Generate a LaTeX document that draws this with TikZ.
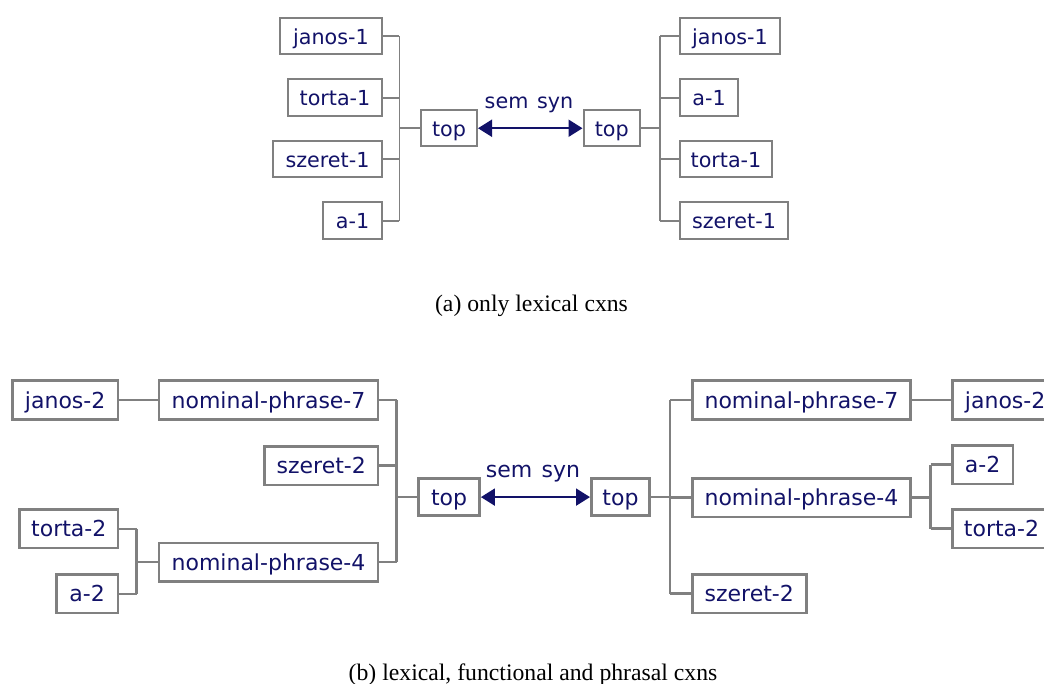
\documentclass[tikz,border=0pt]{standalone}
\usepackage{fontspec}
\setmainfont{Liberation Serif}
\newfontfamily\dvsans{DejaVu Sans}
\usetikzlibrary{arrows.meta}
\definecolor{navy}{RGB}{18,18,104}
\definecolor{boxgray}{RGB}{128,128,128}
\tikzset{
  boxa/.style={draw=boxgray, line width=2pt, inner sep=0pt, text=navy,
    font=\dvsans\fontsize{20.7}{24}\selectfont, text height=17pt, text depth=1pt,
    anchor=north west, minimum height=36.5pt},
  boxb/.style={draw=boxgray, line width=2.6pt, inner sep=0pt, text=navy,
    font=\dvsans\fontsize{22}{26}\selectfont, text height=18pt, text depth=2pt,
    anchor=north west, minimum height=38.5pt},
  conna/.style={draw=boxgray, line width=1.6pt},
  connb/.style={draw=boxgray, line width=2.5pt},
  biarrow/.style={draw=navy, line width=2pt, {Triangle[length=14pt,width=17pt]}-{Triangle[length=14pt,width=17pt]}},
  lbla/.style={text=navy, font=\dvsans\fontsize{20.7}{24}\selectfont, inner sep=0pt},
  lblb/.style={text=navy, font=\dvsans\fontsize{22}{26}\selectfont, inner sep=0pt},
  capt/.style={font=\fontsize{23.7}{28}\selectfont, inner sep=0pt, anchor=base}
}
\begin{document}
\begin{tikzpicture}[x=1pt,y=-1pt]
\path[use as bounding box] (0,0) rectangle (1044,684);

% ---------------- panel (a) ----------------
\node[boxa, minimum width=102pt] (aLj) at (279,17) {janos-1};
\node[boxa, minimum width=94pt]  (aLt) at (287,78.5) {torta-1};
\node[boxa, minimum width=109pt] (aLs) at (272,140) {szeret-1};
\node[boxa, minimum width=59pt]  (aLa) at (322,201.5) {a-1};
\node[boxa, minimum width=56pt]  (aTL) at (420,109) {top};
\node[boxa, minimum width=56.5pt](aTR) at (582.5,109) {top};
\node[boxa, minimum width=100pt] (aRj) at (679,17) {janos-1};
\node[boxa, minimum width=58pt]  (aRa) at (679,78.5) {a-1};
\node[boxa, minimum width=92pt]  (aRt) at (679,140) {torta-1};
\node[boxa, minimum width=108pt] (aRs) at (679,201.5) {szeret-1};
\coordinate (aBL) at (399.3,0);
\coordinate (aBR) at (660,0);

\draw[conna] (aLj.east) -- (aLj.east -| aBL);
\draw[conna] (aLt.east) -- (aLt.east -| aBL);
\draw[conna] (aLs.east) -- (aLs.east -| aBL);
\draw[conna] (aLa.east) -- (aLa.east -| aBL);
\draw[conna] (aLj.east -| aBL) -- (aLa.east -| aBL);
\draw[conna] (aTL.west) -- (aTL.west -| aBL);

\draw[conna] (aTR.east) -- (aTR.east -| aBR);
\draw[conna] (aRj.west -| aBR) -- (aRs.west -| aBR);
\draw[conna] (aRj.west -| aBR) -- (aRj.west);
\draw[conna] (aRa.west -| aBR) -- (aRa.west);
\draw[conna] (aRt.west -| aBR) -- (aRt.west);
\draw[conna] (aRs.west -| aBR) -- (aRs.west);

\draw[biarrow] (aTL.east) -- (aTR.west);
\node[lbla, anchor=base] (aSem) at (529,109) {sem\hspace{0.42em}syn};

\node[capt] (capA) at (531.5,311.7) {(a) only lexical cxns};

% ---------------- panel (b) ----------------
\node[boxb, minimum width=105.7pt] (bLj)  at (11,379.5) {janos-2};
\node[boxb, minimum width=219pt]   (bLn7) at (157.7,379.5) {nominal-phrase-7};
\node[boxb, minimum width=113.4pt] (bLs)  at (263.3,445) {szeret-2};
\node[boxb, minimum width=98.4pt]  (bLt)  at (18.3,508.3) {torta-2};
\node[boxb, minimum width=61.7pt]  (bLa)  at (55,573.3) {a-2};
\node[boxb, minimum width=219pt]   (bLn4) at (157.7,541.5) {nominal-phrase-4};
\node[boxb, minimum width=61pt, minimum height=37pt] (bTL) at (417.3,477.3) {top};
\node[boxb, minimum width=58.3pt, minimum height=37pt] (bTR) at (590,477.3) {top};
\node[boxb, minimum width=218.3pt] (bRn7) at (691,379.5) {nominal-phrase-7};
\node[boxb, minimum width=218.3pt] (bRn4) at (691,477) {nominal-phrase-4};
\node[boxb, minimum width=114pt]   (bRs)  at (691,573) {szeret-2};
\node[boxb, minimum width=105.7pt] (bRj)  at (951,379.5) {janos-2};
\node[boxb, minimum width=60.7pt]  (bRa)  at (951,444) {a-2};
\node[boxb, minimum width=98.4pt]  (bRt)  at (951,508) {torta-2};
\coordinate (bBL)  at (396.7,0);
\coordinate (bBL2) at (136.7,0);
\coordinate (bBR)  at (670,0);
\coordinate (bBR2) at (930.7,0);

\draw[connb] (bLj.east) -- (bLn7.west);
\draw[connb] (bLt.east) -- (bLt.east -| bBL2);
\draw[connb] (bLa.east) -- (bLa.east -| bBL2);
\draw[connb] (bLt.east -| bBL2) -- (bLa.east -| bBL2);
\draw[connb] (bLn4.west) -- (bLn4.west -| bBL2);
\draw[connb] (bLn7.east) -- (bLn7.east -| bBL);
\draw[connb] (bLs.east) -- (bLs.east -| bBL);
\draw[connb] (bLn4.east) -- (bLn4.east -| bBL);
\draw[connb] (bLn7.east -| bBL) -- (bLn4.east -| bBL);
\draw[connb] (bTL.west) -- (bTL.west -| bBL);

\draw[connb] (bTR.east) -- (bTR.east -| bBR);
\draw[connb] (bRn7.west -| bBR) -- (bRs.west -| bBR);
\draw[connb] (bRn7.west -| bBR) -- (bRn7.west);
\draw[connb] (bRn4.west -| bBR) -- (bRn4.west);
\draw[connb] (bRs.west -| bBR) -- (bRs.west);
\draw[connb] (bRn7.east) -- (bRj.west);
\draw[connb] (bRn4.east) -- (bRn4.east -| bBR2);
\draw[connb] (bRa.west -| bBR2) -- (bRt.west -| bBR2);
\draw[connb] (bRa.west -| bBR2) -- (bRa.west);
\draw[connb] (bRt.west -| bBR2) -- (bRt.west);

\draw[biarrow] (bTL.east) -- (bTR.west);
\node[lblb, anchor=base] (bSem) at (533,477) {sem\hspace{0.42em}syn};

\node[capt] (capB) at (533,680) {(b) lexical, functional and phrasal cxns};
\end{tikzpicture}
\end{document}
